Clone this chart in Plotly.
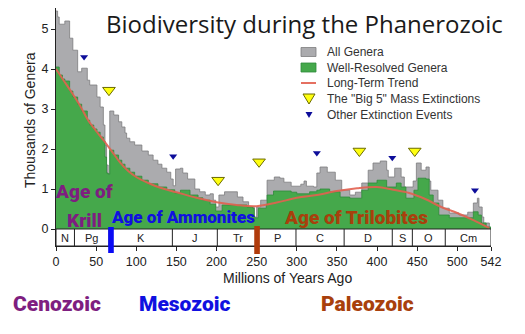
import plotly.graph_objects as go

# ---------------- data (ages in Ma, diversity in thousands of genera) ----------------
all_age = [0, 2, 4, 11, 17, 21, 27, 32, 39, 42, 51, 55, 59, 61, 63, 65, 67, 72, 78, 82,
           86, 88, 92, 98, 107, 115, 121, 127, 132, 138, 143, 146, 149, 155, 158, 164, 173, 179, 186, 192,
           196, 199, 203, 210, 226, 233, 240, 247, 250, 255, 263, 272, 279, 284, 293, 305, 309, 312, 321, 325,
           329, 338, 348, 356, 366, 373, 381, 389, 395, 404, 412, 414, 422, 430, 434, 445, 449, 455, 461, 465,
           467, 476, 482, 490, 502, 513, 520, 525, 527, 531, 533, 540, 542]
all_val = [5.45, 5.3, 5.12, 5.2, 4.77, 4.47, 3.93, 4.02, 3.72, 3.6, 3.3, 3.05, 2.6, 2.1, 1.6, 1.38, 2.95, 2.85, 2.68, 2.55,
           2.4, 2.27, 2.18, 2.1, 1.95, 1.85, 1.72, 1.62, 1.52, 1.42, 1.25, 1.08, 1.5, 1.52, 1.4, 1.25, 1.0, 0.93, 0.85, 0.88,
           0.72, 0.55, 0.85, 0.93, 0.8, 0.68, 0.55, 0.3, 0.55, 0.72, 1.22, 1.3, 1.27, 1.17, 1.07, 1.12, 1.2, 1.07, 1.05, 1.4,
           1.55, 1.42, 1.22, 0.97, 0.85, 0.92, 1.15, 1.47, 1.65, 1.7, 1.47, 1.3, 1.52, 1.3, 1.05, 1.2, 1.65, 1.47, 1.55, 1.2,
           0.97, 0.72, 0.52, 0.4, 0.35, 0.42, 0.65, 0.77, 0.55, 0.3, 0.15, 0.03, 0.0]

wr_age = [0, 4, 8, 11, 17, 21, 27, 32, 39, 42, 47, 51, 55, 59, 61, 63, 65, 67, 72, 78,
          82, 86, 92, 98, 107, 115, 127, 138, 148, 155, 164, 167, 177, 183, 192, 199, 207, 226, 238, 245,
          247, 252, 262, 263, 271, 293, 300, 316, 325, 329, 341, 354, 366, 381, 389, 400, 412, 424, 430, 436,
          446, 451, 461, 465, 470, 477, 490, 520, 526, 530, 536, 542]
wr_val = [4.05, 3.85, 3.75, 3.7, 3.45, 3.3, 3.12, 2.95, 2.72, 2.6, 2.5, 2.42, 2.3, 2.2, 1.8, 1.4, 1.37, 1.97, 1.85, 1.72,
          1.62, 1.52, 1.42, 1.32, 1.22, 1.13, 1.05, 0.98, 0.9, 0.97, 0.97, 0.85, 0.78, 0.72, 0.62, 0.45, 0.6, 0.6, 0.55, 0.52,
          0.28, 0.52, 0.6, 0.85, 0.95, 0.92, 0.88, 0.93, 0.97, 1.0, 0.93, 0.8, 0.77, 0.97, 1.15, 1.22, 1.05, 1.15, 1.05, 0.77,
          0.97, 1.27, 1.25, 0.85, 0.65, 0.35, 0.28, 0.43, 0.35, 0.15, 0.05, 0.0]

trend_age = [0, 10, 20, 30, 40, 50, 60, 70, 80, 90, 100, 115, 130, 150, 175, 200, 225, 250, 275, 300,
             325, 350, 375, 400, 420, 440, 460, 480, 500, 520, 540]
trend_val = [4.0, 3.7, 3.4, 3.08, 2.72, 2.45, 2.2, 1.93, 1.66, 1.45, 1.3, 1.15, 1.03, 0.92, 0.78, 0.67, 0.6, 0.57, 0.66, 0.78,
             0.85, 0.95, 1.02, 1.05, 0.98, 0.9, 0.75, 0.55, 0.4, 0.22, 0.02]

big5_age = [66, 202, 253, 378, 447]
big5_val = [3.47, 1.22, 1.68, 1.95, 1.95]
other_age = [35, 146, 325, 419, 522]
other_val = [4.3, 1.82, 1.9, 1.78, 0.97]

period_bounds = [0, 23, 66, 145, 201, 252, 299, 359, 419, 444, 485, 542]
period_labels = ["N", "Pg", "K", "J", "Tr", "P", "C", "D", "S", "O", "Cm"]
x_ticks = [0, 50, 100, 150, 200, 250, 300, 350, 400, 450, 500, 542]
y_ticks = [0, 1, 2, 3, 4, 5]

assert len(all_age) == len(all_val) and len(wr_age) == len(wr_val) and len(trend_age) == len(trend_val)

# ---------------- layout geometry ----------------
W, H = 525, 334
ML, MR, MT, MB = 56, 34, 8, 88
PW, PH = W - ML - MR, H - MT - MB
Y_BAND = -0.425
Y_TOP = 5.525


def px(x):
    return (x - ML) / PW


def py(y):
    return (H - MB - y) / PH


SANS = "Liberation Sans, Arial, sans-serif"


def heavy(text):
    return f"<span style=\"font-family:Roboto;font-weight:900\">{text}</span>"


fig = go.Figure()
fig.add_trace(go.Scatter(x=all_age, y=all_val, mode="lines",
                         line=dict(shape="hv", color="#7c7c7e", width=0.8),
                         fill="tozeroy", fillcolor="#ABABAE", name="All Genera",
                         showlegend=False, hoverinfo="skip"))
fig.add_trace(go.Scatter(x=wr_age, y=wr_val, mode="lines",
                         line=dict(shape="hv", color="#2f8a3a", width=0.8),
                         fill="tozeroy", fillcolor="#45A84B", name="Well-Resolved Genera",
                         showlegend=False, hoverinfo="skip"))
fig.add_trace(go.Scatter(x=trend_age, y=trend_val, mode="lines",
                         line=dict(shape="spline", color="rgba(226,96,80,0.9)", width=2),
                         name="Long-Term Trend", showlegend=False, hoverinfo="skip"))
fig.add_trace(go.Scatter(x=big5_age, y=big5_val, mode="markers",
                         marker=dict(symbol="triangle-down", size=11, color="#FFFF10",
                                     line=dict(color="#6b6b00", width=1)),
                         name='The "Big 5" Mass Extinctions', showlegend=False, hoverinfo="skip"))
fig.add_trace(go.Scatter(x=other_age, y=other_val, mode="markers",
                         marker=dict(symbol="triangle-down", size=7, color="#0D0D9A"),
                         name="Other Extinction Events", showlegend=False, hoverinfo="skip"))

shapes = []
annotations = []

# geological period band
shapes.append(dict(type="rect", xref="x", yref="y", x0=period_bounds[0], x1=period_bounds[-1],
                   y0=Y_BAND, y1=0, line=dict(color="#222", width=1), fillcolor="white", layer="above"))
for b in period_bounds[1:-1]:
    shapes.append(dict(type="line", xref="x", yref="y", x0=b, x1=b, y0=Y_BAND, y1=0,
                       line=dict(color="#222", width=1)))
for i, lab in enumerate(period_labels):
    annotations.append(dict(x=(period_bounds[i] + period_bounds[i + 1]) / 2, y=Y_BAND / 2, xref="x", yref="y",
                            text=lab, showarrow=False, font=dict(family=SANS, size=11, color="#222"),
                            xanchor="center", yanchor="middle"))

# era boundary bars
shapes.append(dict(type="rect", xref="x", yref="paper", x0=65, x1=72, y0=py(253), y1=py(227),
                   fillcolor="#0A0AF5", line=dict(width=0)))
shapes.append(dict(type="rect", xref="x", yref="paper", x0=247, x1=254, y0=py(254), y1=py(226),
                   fillcolor="#B03C0C", line=dict(width=0)))

# manual legend
leg_rows = [52, 67.5, 83, 99, 115]
leg_text = ["All Genera", "Well-Resolved Genera", "Long-Term Trend",
            'The "Big 5" Mass Extinctions', "Other Extinction Events"]
shapes.append(dict(type="rect", xref="paper", yref="paper", x0=px(301), x1=px(316),
                   y0=py(leg_rows[0] + 4.5), y1=py(leg_rows[0] - 4.5),
                   fillcolor="#ABABAE", line=dict(color="#7c7c7e", width=0.8)))
shapes.append(dict(type="rect", xref="paper", yref="paper", x0=px(301), x1=px(316),
                   y0=py(leg_rows[1] + 4.5), y1=py(leg_rows[1] - 4.5),
                   fillcolor="#45A84B", line=dict(color="#2f8a3a", width=0.8)))
shapes.append(dict(type="line", xref="paper", yref="paper", x0=px(301), x1=px(316),
                   y0=py(leg_rows[2]), y1=py(leg_rows[2]),
                   line=dict(color="rgba(226,96,80,0.9)", width=2)))
ty = leg_rows[3]
shapes.append(dict(type="path", xref="paper", yref="paper",
                   path=f"M {px(303)} {py(ty-5)} L {px(315)} {py(ty-5)} L {px(309)} {py(ty+5)} Z",
                   fillcolor="#FFFF10", line=dict(color="#6b6b00", width=1)))
ty = leg_rows[4]
shapes.append(dict(type="path", xref="paper", yref="paper",
                   path=f"M {px(305.5)} {py(ty-3)} L {px(312.5)} {py(ty-3)} L {px(309)} {py(ty+3)} Z",
                   fillcolor="#0D0D9A", line=dict(width=0)))
for r, t in zip(leg_rows, leg_text):
    annotations.append(dict(x=px(325), y=py(r), xref="paper", yref="paper", text=t, showarrow=False,
                            xanchor="left", yanchor="middle", font=dict(family=SANS, size=12, color="#333")))

# title and axis titles
annotations.append(dict(x=px(304), y=py(24), xref="paper", yref="paper",
                        text="Biodiversity during the Phanerozoic", showarrow=False,
                        xanchor="center", yanchor="middle",
                        font=dict(family="Open Sans, sans-serif", size=24, color="#1a1a1a")))
annotations.append(dict(x=px(30), y=py(120), xref="paper", yref="paper", text="Thousands of Genera",
                        textangle=-90, showarrow=False, xanchor="center", yanchor="middle",
                        font=dict(family=SANS, size=14, color="#222")))
annotations.append(dict(x=px(287), y=py(278), xref="paper", yref="paper", text="Millions of Years Ago",
                        showarrow=False, xanchor="center", yanchor="middle",
                        font=dict(family=SANS, size=14, color="#222")))

# "Age of ..." labels
annotations.append(dict(x=35, y=0.93, xref="x", yref="y", text=heavy("Age of"),
                        showarrow=False, font=dict(size=19, color="#7E1E80")))
annotations.append(dict(x=36, y=0.22, xref="x", yref="y", text=heavy("Krill"),
                        showarrow=False, font=dict(size=19, color="#7E1E80")))
annotations.append(dict(x=158, y=0.3, xref="x", yref="y", text=heavy("Age of Ammonites"),
                        showarrow=False, font=dict(size=17, color="#1010E0")))
annotations.append(dict(x=374, y=0.3, xref="x", yref="y", text=heavy("Age of Trilobites"),
                        showarrow=False, font=dict(size=19, color="#A8400C")))

# era names below the axis
for name, cx, col in [("Cenozoic", 57, "#7E1E80"), ("Mesozoic", 184, "#1010E0"), ("Paleozoic", 367, "#A8400C")]:
    annotations.append(dict(x=px(cx), y=py(304), xref="paper", yref="paper", text=heavy(name),
                            showarrow=False, xanchor="center", yanchor="middle",
                            font=dict(size=21, color=col)))

fig.update_layout(
    width=W, height=H,
    margin=dict(l=ML, r=MR, t=MT, b=MB),
    paper_bgcolor="white", plot_bgcolor="white",
    showlegend=False,
    shapes=shapes, annotations=annotations,
    xaxis=dict(range=[0, 542], tickvals=x_ticks, ticktext=[str(v) for v in x_ticks],
               showline=True, linecolor="#222", linewidth=1, ticks="outside", ticklen=4,
               tickcolor="#222", showgrid=False, zeroline=False,
               tickfont=dict(family=SANS, size=12.5, color="#222")),
    yaxis=dict(range=[Y_BAND, Y_TOP], tickvals=y_ticks, showline=True, linecolor="#222", linewidth=1,
               ticks="outside", ticklen=4, tickcolor="#222", showgrid=False, zeroline=False,
               tickfont=dict(family=SANS, size=12.5, color="#222")),
)

fig.write_html("out.html")
